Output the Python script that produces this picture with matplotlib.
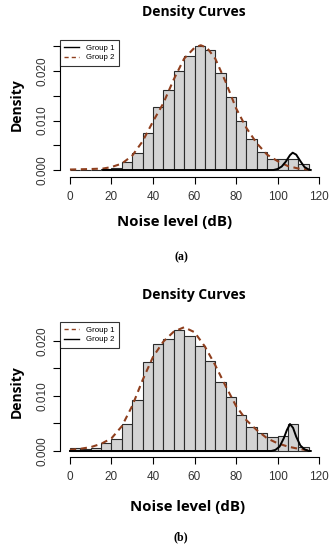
import numpy as np
import matplotlib.pyplot as plt

# histogram bins (dB), 5 dB wide
bin_left = list(range(0, 115, 5))

# panel (a) bar heights
dens_a = [0.0, 0.0, 0.0001, 0.0003, 0.0005, 0.0016, 0.0035, 0.0075, 0.0128,
          0.0162, 0.0200, 0.0230, 0.0251, 0.0243, 0.0195, 0.0148, 0.0100,
          0.0063, 0.0037, 0.0022, 0.0022, 0.0022, 0.0013]
# panel (b) bar heights
dens_b = [0.0006, 0.0004, 0.0005, 0.0014, 0.0022, 0.0049, 0.0093, 0.0161,
          0.0195, 0.0204, 0.0220, 0.0209, 0.0190, 0.0164, 0.0125, 0.0098,
          0.0065, 0.0044, 0.0032, 0.0025, 0.0027, 0.0049, 0.0008]

# panel (a) curves
a_g1_x = [16, 98, 100, 102, 104, 106, 107.3, 109, 111, 113, 115, 116]
a_g1_y = [0, 0, 0.0002, 0.0007, 0.0017, 0.0030, 0.0035, 0.0031, 0.0018, 0.0006, 0.0001, 0]
a_g2_x = [0, 10, 16, 20, 25, 30, 35, 40, 45, 50, 55, 60, 63, 66, 70, 75, 80, 85,
          90, 95, 100, 105, 110, 115]
a_g2_y = [0.0001, 0.0002, 0.0003, 0.0006, 0.0013, 0.0029, 0.0058, 0.0098, 0.0135,
          0.0183, 0.0225, 0.0247, 0.0252, 0.0247, 0.0225, 0.0178, 0.0125, 0.0085,
          0.0054, 0.0031, 0.0018, 0.0008, 0.0003, 0.0001]

# panel (b) curves
b_g1_x = [0, 5, 10, 15, 20, 25, 30, 35, 40, 45, 50, 55, 60, 65, 70, 75, 80, 85,
          90, 95, 100, 105, 110, 115]
b_g1_y = [0.0002, 0.0004, 0.0007, 0.0013, 0.0023, 0.0045, 0.0082, 0.0129, 0.0171,
          0.0199, 0.0217, 0.0225, 0.0216, 0.0190, 0.0156, 0.0118, 0.0082, 0.0056,
          0.0038, 0.0023, 0.0014, 0.0008, 0.0004, 0.0001]
b_g2_x = [0, 97, 99, 101, 103, 104.5, 106, 107.5, 109, 111, 113, 115, 116]
b_g2_y = [0, 0, 0.0002, 0.0008, 0.0023, 0.0038, 0.0049, 0.0042, 0.0026, 0.0010, 0.0003, 0, 0]

xticks = [0, 20, 40, 60, 80, 100, 120]

brown = '#8f3f1e'
dash = (0, (3.0, 2.2))
tick_col = '#333333'

fig = plt.figure(figsize=(3.33, 5.5), dpi=100)


def panel(rect, dens, ylim, ytop, lines, labels_order):
    ax = fig.add_axes(rect)
    ax.bar(bin_left, dens, width=5, align='edge', color='#d3d3d3',
           edgecolor='#2b2b2b', linewidth=0.8, zorder=1)
    handles = {}
    for name, (x, y, kind) in lines.items():
        if kind == 'dash':
            h, = ax.plot(x, y, color=brown, lw=1.5, ls=dash, zorder=2)
        else:
            h, = ax.plot(x, y, color='black', lw=1.4, zorder=3)
        handles[name] = h
    ax.set_xlim(-4.8, 124.8)
    ax.set_ylim(*ylim)
    for s in ['top', 'right']:
        ax.spines[s].set_visible(False)
    ax.spines['bottom'].set_bounds(0, 120)
    ax.spines['left'].set_bounds(0, ytop)
    ax.spines['left'].set_linewidth(0.8)
    ax.spines['bottom'].set_linewidth(0.8)
    ax.set_xticks(xticks)
    ax.set_xticklabels([str(v) for v in xticks], fontsize=8.5, color=tick_col,
                       family='Liberation Sans')
    yt = np.arange(0, ytop + 1e-9, 0.005)
    ax.set_yticks(yt)
    ylabs = ['%.3f' % v if i % 2 == 0 else '' for i, v in enumerate(yt)]
    ax.set_yticklabels(ylabs, fontsize=8.5, color=tick_col, rotation=90,
                       va='center', family='Liberation Sans')
    ax.tick_params(direction='out', length=5, width=0.8)
    ax.tick_params(axis='x', pad=5.5)
    ax.tick_params(axis='y', pad=3)
    ax.patch.set_alpha(0)
    leg = ax.legend([handles[n] for n in labels_order], labels_order,
                    loc='upper left', bbox_to_anchor=(0, 1), borderaxespad=0,
                    frameon=True, fancybox=False,
                    handlelength=1.8, handletextpad=0.9, borderpad=0.55,
                    labelspacing=0.2, prop={'family': 'Liberation Sans', 'size': 5.7})
    leg.get_frame().set_edgecolor('black')
    leg.get_frame().set_linewidth(0.8)
    for ln in leg.get_lines():
        ln.set_linewidth(1.0)
    return ax


panel([60 / 333, 1 - 176.7 / 550, 269 / 333, 136.4 / 550], dens_a,
      (-0.00135, 0.0262), 0.025,
      {'Group 1': (a_g1_x, a_g1_y, 'solid'), 'Group 2': (a_g2_x, a_g2_y, 'dash')},
      ['Group 1', 'Group 2'])
panel([60 / 333, 1 - 456.7 / 550, 269 / 333, 134.4 / 550], dens_b,
      (-0.00104, 0.0234), 0.020,
      {'Group 1': (b_g1_x, b_g1_y, 'dash'), 'Group 2': (b_g2_x, b_g2_y, 'solid')},
      ['Group 1', 'Group 2'])

bold = dict(family='Open Sans', weight='bold', ha='center', va='center')
fig.text(194 / 333, 1 - 12 / 550, 'Density Curves', fontsize=10, **bold)
fig.text(194 / 333, 1 - 295 / 550, 'Density Curves', fontsize=10, **bold)
fig.text(17 / 333, 1 - 105 / 550, 'Density', fontsize=10, rotation=90, **bold)
fig.text(17 / 333, 1 - 392 / 550, 'Density', fontsize=10, rotation=90, **bold)
fig.text(175 / 333, 1 - 222 / 550, 'Noise level (dB)', fontsize=10.8, **bold)
fig.text(188 / 333, 1 - 507 / 550, 'Noise level (dB)', fontsize=10.8, **bold)
fig.text(181 / 333, 1 - 257 / 550, '(a)', fontsize=8.5, family='Liberation Serif',
         weight='bold', ha='center', va='center')
fig.text(181 / 333, 1 - 537 / 550, '(b)', fontsize=8.5, family='Liberation Serif',
         weight='bold', ha='center', va='center')

fig.savefig('out.png', dpi=100)
